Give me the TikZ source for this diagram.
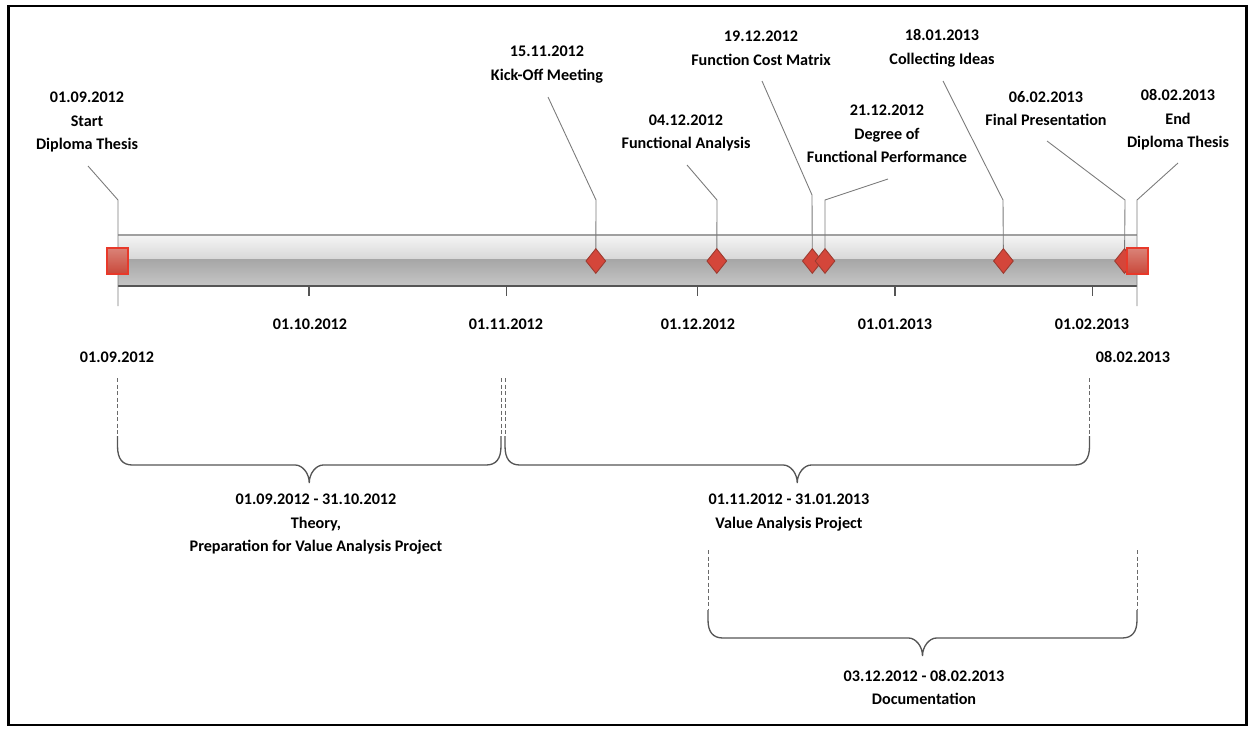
\documentclass[tikz,border=0pt]{standalone}
\usepackage{fontspec}
\setmainfont{Carlito}
\usetikzlibrary{shapes.geometric}

\definecolor{leadergray}{HTML}{7A7A7A}
\definecolor{tickgray}{HTML}{555555}
\definecolor{msfill}{HTML}{D4463A}
\definecolor{msborder}{HTML}{9C3B30}
\definecolor{sqtop}{HTML}{DA8378}
\definecolor{sqbot}{HTML}{C9483A}
\definecolor{sqborder}{HTML}{E8392A}
\definecolor{barA}{HTML}{F5F5F5}
\definecolor{barB}{HTML}{D8D8D8}
\definecolor{barC}{HTML}{A6A6A6}
\definecolor{barD}{HTML}{C6C6C6}
\definecolor{bartopline}{HTML}{A0A0A0}
\definecolor{barbotline}{HTML}{555555}
\definecolor{guidegray}{HTML}{6A6A6A}
\definecolor{bracegray}{HTML}{555555}

% curly brace: left x, right x, top y, horizontal y, tip depth
\newcommand{\phasebrace}[5]{%
  \pgfmathsetmacro{\bxm}{(#1+#2)/2}%
  \draw[brace] (#1,#3) -- (#1,#3+10)
    .. controls (#1,#4-6) and (#1+5,#4) .. (#1+15,#4)
    -- (\bxm-14,#4)
    .. controls (\bxm-7,#4) and (\bxm,#4+#5-10) .. (\bxm,#4+#5)
    .. controls (\bxm,#4+#5-10) and (\bxm+7,#4) .. (\bxm+14,#4)
    -- (#2-15,#4)
    .. controls (#2-5,#4) and (#2,#4-6) .. (#2,#3+10) -- (#2,#3);
}

\begin{document}
\begin{tikzpicture}[x=0.02cm,y=-0.02cm,
  lbl/.style={font=\bfseries\fontsize{9.2}{13.4}\selectfont, align=center, inner sep=0pt},
  leader/.style={draw=leadergray, line width=0.5pt},
  monthtick/.style={draw=tickgray, line width=0.6pt},
  milestone/.style={shape=diamond, draw=msborder, fill=msfill, line width=0.5pt,
    minimum width=0.4cm, minimum height=0.5cm, inner sep=0pt},
  endmark/.style={rectangle, draw=sqborder, top color=sqtop, bottom color=sqbot,
    line width=0.6pt, minimum width=0.42cm, minimum height=0.52cm, inner sep=0pt},
  guide/.style={draw=guidegray, line width=0.5pt, dash pattern=on 2.4pt off 1.3pt},
  brace/.style={draw=bracegray, line width=0.75pt}
]
\useasboundingbox (0,0) rectangle (1250,728);

% outer frame
\draw[line width=1.4pt] (8.5,6.2) rectangle (1246.5,725);

% timeline bar
\shade[top color=barA, bottom color=barB] (118,235) rectangle (1137,259);
\shade[top color=barC, bottom color=barD] (118,259) rectangle (1137,286);
\draw[bartopline, line width=0.8pt] (118,235) -- (1137,235);
\draw[barbotline, line width=0.8pt] (118,286) -- (1137,286);

% month ticks and labels
\foreach \mx/\my/\mname/\mtext in {309/310/oct/01.10.2012, 506.6/506/nov/01.11.2012,
    697.7/698/dec/01.12.2012, 895/895/jan/01.01.2013, 1092.6/1092/feb/01.02.2013}{
  \coordinate (t-\mname) at (\mx,286);
  \coordinate (tb-\mname) at (\mx,296);
  \draw[monthtick] (t-\mname) -- (tb-\mname);
  \node[lbl] (ml-\mname) at (\my,324) {\mtext};
}

% milestone positions on the bar
\coordinate (c-start) at (117.5,261);
\coordinate (c-kick)  at (595.8,261);
\coordinate (c-fa)    at (716.8,261);
\coordinate (c-fcm)   at (812.3,261);
\coordinate (c-dfp)   at (825,261);
\coordinate (c-ideas) at (1003.4,261);
\coordinate (c-final) at (1124.5,261);
\coordinate (c-end)   at (1137.5,261);

% milestone captions
\node[lbl] (l-start) at (87,122)   {01.09.2012\\Start\\Diploma Thesis};
\node[lbl] (l-kick)  at (547,64.5) {15.11.2012\\Kick-Off Meeting};
\node[lbl] (l-fa)    at (686,133)  {04.12.2012\\Functional Analysis};
\node[lbl] (l-fcm)   at (761,48.5) {19.12.2012\\Function Cost Matrix};
\node[lbl] (l-dfp)   at (887,134)  {21.12.2012\\Degree of\\Functional Performance};
\node[lbl] (l-ideas) at (942,48.5) {18.01.2013\\Collecting Ideas};
\node[lbl] (l-final) at (1046,108.5) {06.02.2013\\Final Presentation};
\node[lbl] (l-end)   at (1178,120) {08.02.2013\\End\\Diploma Thesis};

% leader lines: caption end, bend, bar
\coordinate (e-start) at (88,166);   \coordinate (b-start) at (118,200); \coordinate (f-start) at (118,306);
\coordinate (e-kick)  at (548,97);   \coordinate (b-kick)  at (596,200);
\coordinate (e-fa)    at (687,165);  \coordinate (b-fa)    at (717,200);
\coordinate (e-fcm)   at (762,81);   \coordinate (b-fcm)   at (812,195);
\coordinate (e-dfp)   at (888,179);  \coordinate (b-dfp)   at (825,200);
\coordinate (e-ideas) at (943,81);   \coordinate (b-ideas) at (1003,200);
\coordinate (e-final) at (1047,141); \coordinate (b-final) at (1125,200);
\coordinate (e-end)   at (1178,163); \coordinate (b-end)   at (1137,200); \coordinate (f-end) at (1137,306);

\draw[leader] (e-start) -- (b-start) -- (f-start);
\draw[leader] (e-kick)  -- (b-kick)  -- (c-kick);
\draw[leader] (e-fa)    -- (b-fa)    -- (c-fa);
\draw[leader] (e-fcm)   -- (b-fcm)   -- (c-fcm);
\draw[leader] (e-dfp)   -- (b-dfp)   -- (c-dfp);
\draw[leader] (e-ideas) -- (b-ideas) -- (c-ideas);
\draw[leader] (e-final) -- (b-final) -- (c-final);
\draw[leader] (e-end)   -- (b-end)   -- (f-end);

% milestone markers
\node[milestone] (m-kick)  at (c-kick)  {};
\node[milestone] (m-fa)    at (c-fa)    {};
\node[milestone] (m-fcm)   at (c-fcm)   {};
\node[milestone] (m-dfp)   at (c-dfp)   {};
\node[milestone] (m-ideas) at (c-ideas) {};
\node[milestone] (m-final) at (c-final) {};
\node[endmark]   (m-start) at (c-start) {};
\node[endmark]   (m-end)   at (c-end)   {};

% phase boundaries
\node[lbl] (d-start) at (117,357)  {01.09.2012};
\node[lbl] (d-end)   at (1133,357) {08.02.2013};

\coordinate (g1a) at (117.5,378); \coordinate (g1b) at (117.5,436);
\coordinate (g2a) at (501,378);   \coordinate (g2b) at (501,436);
\coordinate (g3a) at (505,378);   \coordinate (g3b) at (505,436);
\coordinate (g4a) at (1089.5,378); \coordinate (g4b) at (1089.5,436);
\coordinate (g5a) at (708,550);   \coordinate (g5b) at (708,610);
\coordinate (g6a) at (1137,550);  \coordinate (g6b) at (1137,610);
\draw[guide] (g1a) -- (g1b);
\draw[guide] (g2a) -- (g2b);
\draw[guide] (g3a) -- (g3b);
\draw[guide] (g4a) -- (g4b);
\draw[guide] (g5a) -- (g5b);
\draw[guide] (g6a) -- (g6b);

% phase braces
\phasebrace{117.5}{501}{436}{465}{18}
\phasebrace{505}{1089.5}{436}{465}{18}
\phasebrace{708}{1137}{610}{638}{18}

% phase captions
\node[lbl] (p-theory) at (316,524.5) {01.09.2012 - 31.10.2012\\Theory,\\Preparation for Value Analysis Project};
\node[lbl] (p-value)  at (789,512.5) {01.11.2012 - 31.01.2013\\Value Analysis Project};
\node[lbl] (p-doc)    at (924,687.5) {03.12.2012 - 08.02.2013\\Documentation};
\end{tikzpicture}
\end{document}
